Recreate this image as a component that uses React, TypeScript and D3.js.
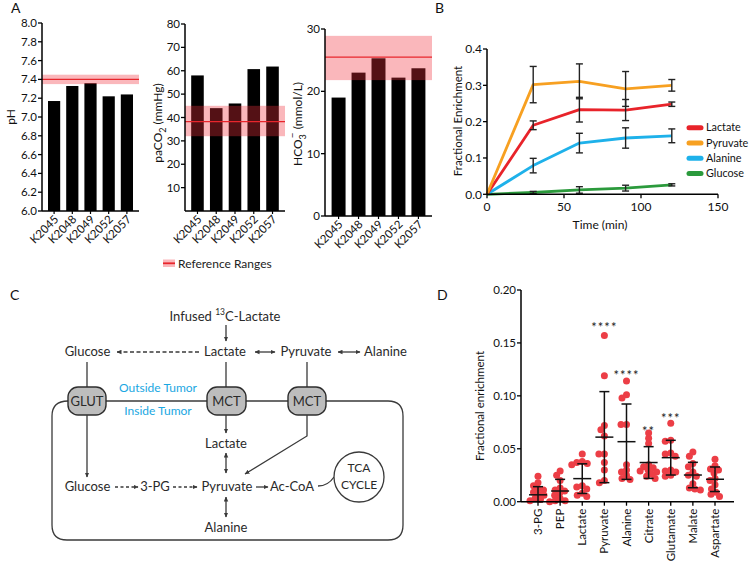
import React from 'react';
import * as d3 from 'd3';

const FONT = 'Lato, "Open Sans", "DejaVu Sans", sans-serif';

// ---------- Panel A data ----------
const patients = ['K2045', 'K2048', 'K2049', 'K2052', 'K2057'];
const phValues = [7.17, 7.33, 7.36, 7.22, 7.24];
const phRef = [7.35, 7.45, 7.4]; // low, high, mid
const phTicks = [6.0, 6.2, 6.4, 6.6, 6.8, 7.0, 7.2, 7.4, 7.6, 7.8, 8.0];
const pco2Values = [58, 44, 46, 60.7, 61.8];
const pco2Ref = [32, 45, 38.2];
const pco2Ticks = [10, 20, 30, 40, 50, 60, 70, 80];
const hco3Values = [19, 23, 25.3, 22.2, 23.7];
const hco3Ref = [21.8, 28.9, 25.5];
const hco3Ticks = [0, 10, 20, 30];

// ---------- Panel B data ----------
const timePoints = [0, 30, 60, 90, 120];
const seriesNames = ['Lactate', 'Pyruvate', 'Alanine', 'Glucose'];
const lactateMean = [0, 0.19, 0.233, 0.232, 0.248];
const lactateErr = [0, 0.012, 0.034, 0.029, 0.006];
const pyruvateMean = [0, 0.302, 0.311, 0.29, 0.3];
const pyruvateErr = [0, 0.05, 0.048, 0.048, 0.016];
const alanineMean = [0, 0.079, 0.141, 0.155, 0.161];
const alanineErr = [0, 0.02, 0.027, 0.028, 0.019];
const glucoseMean = [0, 0.005, 0.012, 0.017, 0.026];
const glucoseErr = [0, 0.003, 0.009, 0.008, 0.003];
const timeTicks = [0, 50, 100, 150];
const enrichTicks = [0, 0.1, 0.2, 0.3, 0.4];

// ---------- Panel D data ----------
const metabolites = ['3-PG', 'PEP', 'Lactate', 'Pyruvate', 'Alanine', 'Citrate', 'Glutamate', 'Malate', 'Aspartate'];
const pg3Points = [0.024, 0.018, 0.015, 0.012, 0.011, 0.009, 0.007, 0.006, 0.003, 0.002, 0.001];
const pepPoints = [0.029, 0.025, 0.02, 0.013, 0.011, 0.01, 0.008, 0.006, 0.003, 0.001, 0.0, 0.001];
const lactatePoints = [0.045, 0.038, 0.037, 0.036, 0.035, 0.015, 0.014, 0.012, 0.008, 0.006, 0.005];
const pyruvatePoints = [0.157, 0.119, 0.072, 0.068, 0.062, 0.045, 0.045, 0.037, 0.03, 0.02, 0.018];
const alaninePoints = [0.114, 0.101, 0.098, 0.073, 0.073, 0.035, 0.03, 0.028, 0.025, 0.022, 0.021];
const citratePoints = [0.065, 0.06, 0.055, 0.035, 0.033, 0.032, 0.03, 0.029, 0.028, 0.026, 0.024, 0.022];
const glutamatePoints = [0.074, 0.058, 0.057, 0.046, 0.045, 0.043, 0.03, 0.029, 0.028, 0.025, 0.024];
const malatePoints = [0.047, 0.043, 0.036, 0.033, 0.028, 0.025, 0.024, 0.017, 0.013, 0.012, 0.011];
const aspartatePoints = [0.04, 0.034, 0.031, 0.03, 0.027, 0.022, 0.02, 0.016, 0.012, 0.009, 0.007, 0.005];
const dMeans = [0.0065, 0.0101, 0.0218, 0.061, 0.0567, 0.037, 0.0416, 0.0252, 0.0212];
const dSds = [0.0077, 0.011, 0.014, 0.043, 0.0356, 0.015, 0.0164, 0.012, 0.0116];
const dStars = ['', '', '', '****', '****', '**', '***', '', ''];
const dStarValues = [0, 0, 0, 0.167, 0.122, 0.069, 0.081, 0, 0];
const dTicks = [0, 0.05, 0.1, 0.15, 0.2];

const REF_FILL = '#f0303c';
const RED = '#e8262c';

type BarProps = {
  x0: number; x1: number; yTop: number; yBase: number;
  domain: [number, number]; ticks: number[]; fmt: (v: number) => string;
  values: number[]; refRange: number[]; pad: number;
};

function BarPanel({ x0, x1, yTop, yBase, domain, ticks, fmt, values, refRange, pad }: BarProps) {
  const x = d3.scaleBand<string>().domain(patients).range([x0, x1]).paddingInner(pad).paddingOuter(0.33);
  const y = d3.scaleLinear().domain(domain).range([yBase, yTop]);
  return (
    <g>
      {values.map((v, i) => (
        <rect key={i} x={x(patients[i])} y={y(v)} width={x.bandwidth()} height={yBase - y(v)} fill="#000" />
      ))}
      <rect x={x0} y={y(refRange[1])} width={x1 - x0} height={y(refRange[0]) - y(refRange[1])} fill={REF_FILL} fillOpacity={0.35} />
      <line x1={x0} x2={x1} y1={y(refRange[2])} y2={y(refRange[2])} stroke={RED} strokeWidth={1.3} />
      <line x1={x0} x2={x0} y1={yTop} y2={yBase} stroke="#000" strokeWidth={1.5} />
      <line x1={x0} x2={x1} y1={yBase} y2={yBase} stroke="#000" strokeWidth={1.5} />
      {ticks.map((t) => (
        <g key={t}>
          <line x1={x0 - 4} x2={x0} y1={y(t)} y2={y(t)} stroke="#000" strokeWidth={1.3} />
          <text x={x0 - 5} y={y(t)} dy="0.35em" textAnchor="end" fontSize={11.5} fill="#111">{fmt(t)}</text>
        </g>
      ))}
      {patients.map((p) => {
        const cx = (x(p) as number) + x.bandwidth() / 2;
        return (
          <g key={p}>
            <line x1={cx} x2={cx} y1={yBase} y2={yBase + 3} stroke="#000" strokeWidth={1.2} />
            <text transform={`translate(${cx + 5},${yBase + 9}) rotate(-45)`} textAnchor="end" fontSize={11.5} fill="#111">{p}</text>
          </g>
        );
      })}
    </g>
  );
}

function PanelA() {
  return (
    <g>
      <text x={11} y={13} fontSize={14} fill="#111">A</text>
      <BarPanel x0={42} x1={139} yTop={23} yBase={211} domain={[6, 8]} ticks={phTicks}
        fmt={d3.format('.1f')} values={phValues} refRange={phRef} pad={0.33} />
      <text transform="translate(11,117) rotate(-90)" dy="0.35em" textAnchor="middle" fontSize={12} fill="#111">pH</text>

      <BarPanel x0={185} x1={285} yTop={24} yBase={211} domain={[0, 80]} ticks={pco2Ticks}
        fmt={d3.format('d')} values={pco2Values} refRange={pco2Ref} pad={0.33} />
      <text transform="translate(158,123) rotate(-90)" dy="0.35em" textAnchor="middle" fontSize={12} fill="#111">
        paCO<tspan fontSize={9} dy={4}>2</tspan><tspan dy={-4}>{'  (mmHg)'}</tspan>
      </text>

      <BarPanel x0={325} x1={432} yTop={29} yBase={216} domain={[0, 30]} ticks={hco3Ticks}
        fmt={d3.format('d')} values={hco3Values} refRange={hco3Ref} pad={0.3} />
      <text transform="translate(298,124) rotate(-90)" dy="0.35em" textAnchor="middle" fontSize={12} fill="#111">
        HCO<tspan fontSize={9} dy={4}>3</tspan><tspan fontSize={10} dx={-4} dy={-10}>−</tspan><tspan dy={6}>{' (mmol/L)'}</tspan>
      </text>

      <rect x={163} y={259.5} width={12} height={7.5} fill={REF_FILL} fillOpacity={0.35} />
      <line x1={163} x2={175} y1={263.3} y2={263.3} stroke={RED} strokeWidth={1.8} />
      <text x={178} y={267.5} fontSize={12} fill="#222">Reference Ranges</text>
    </g>
  );
}

function PanelB() {
  const x = d3.scaleLinear().domain([0, 150]).range([487, 718]);
  const y = d3.scaleLinear().domain([0, 0.4]).range([194.3, 49]);
  const means = [lactateMean, pyruvateMean, alanineMean, glucoseMean];
  const errs = [lactateErr, pyruvateErr, alanineErr, glucoseErr];
  const colors = ['#e8232a', '#f7a021', '#1eb1ea', '#2b9a3c'];
  const line = d3.line<number>().x((_, i) => x(timePoints[i])).y((d) => y(d));
  const drawOrder = [3, 2, 0, 1];
  return (
    <g>
      <text x={435} y={13} fontSize={14} fill="#111">B</text>
      {drawOrder.map((s) => (
        <path key={s} d={line(means[s]) || ''} fill="none" stroke={colors[s]} strokeWidth={2.8} strokeLinejoin="round" />
      ))}
      {drawOrder.map((s) => (
        <g key={'e' + s}>
          {means[s].map((m, i) => errs[s][i] > 0 ? (
            <g key={i} stroke="#222" strokeWidth={1.4}>
              <line x1={x(timePoints[i])} x2={x(timePoints[i])} y1={y(m - errs[s][i])} y2={y(m + errs[s][i])} />
              <line x1={x(timePoints[i]) - 3.5} x2={x(timePoints[i]) + 3.5} y1={y(m - errs[s][i])} y2={y(m - errs[s][i])} />
              <line x1={x(timePoints[i]) - 3.5} x2={x(timePoints[i]) + 3.5} y1={y(m + errs[s][i])} y2={y(m + errs[s][i])} />
            </g>
          ) : null)}
        </g>
      ))}
      <line x1={x(0)} x2={x(0)} y1={y(0.4)} y2={y(0)} stroke="#000" strokeWidth={1.5} />
      <line x1={x(0)} x2={x(150)} y1={y(0)} y2={y(0)} stroke="#000" strokeWidth={1.5} />
      {enrichTicks.map((t) => (
        <g key={t}>
          <line x1={x(0) - 4} x2={x(0)} y1={y(t)} y2={y(t)} stroke="#000" strokeWidth={1.3} />
          <text x={x(0) - 5} y={y(t)} dy="0.35em" textAnchor="end" fontSize={12} fill="#111">{d3.format('.1f')(t)}</text>
        </g>
      ))}
      {timeTicks.map((t) => (
        <g key={t}>
          <line x1={x(t)} x2={x(t)} y1={y(0)} y2={y(0) + 4} stroke="#000" strokeWidth={1.3} />
          <text x={x(t)} y={y(0) + 17} textAnchor="middle" fontSize={12} fill="#111">{t}</text>
        </g>
      ))}
      <text x={600} y={229} textAnchor="middle" fontSize={12} fill="#111">Time (min)</text>
      <text transform="translate(458,121) rotate(-90)" dy="0.35em" textAnchor="middle" fontSize={11.5} fill="#111">Fractional Enrichment</text>
      {seriesNames.map((n, i) => (
        <g key={n}>
          <line x1={689} x2={701} y1={127.7 + i * 15.3} y2={127.7 + i * 15.3} stroke={colors[i]} strokeWidth={5} strokeLinecap="round" />
          <text x={706} y={127.7 + i * 15.3} dy="0.35em" fontSize={10.8} fill="#111">{n}</text>
        </g>
      ))}
    </g>
  );
}

function PanelC() {
  const txt = '#2a2a2a';
  const ln = '#3a3a3a';
  const L = { stroke: ln, strokeWidth: 1.3, fill: 'none' };
  const boxes = [
    { name: 'GLUT', x: 68, w: 38 },
    { name: 'MCT', x: 207, w: 39 },
    { name: 'MCT', x: 288, w: 38 },
  ];
  const T = (x: number, y: number, s: string, anchor = 'middle') => (
    <text x={x} y={y} textAnchor={anchor as any} fontSize={13} fill={txt}>{s}</text>
  );
  return (
    <g>
      <defs>
        <marker id="ah" viewBox="0 0 10 10" refX={9} refY={5} markerWidth={5} markerHeight={5}
          markerUnits="userSpaceOnUse" orient="auto-start-reverse">
          <path d="M0,0.5 L10,5 L0,9.5 z" fill={ln} />
        </marker>
      </defs>
      <text x={10} y={300} fontSize={14} fill="#111">C</text>
      <text x={225} y={321} textAnchor="middle" fontSize={13} fill={txt}>
        Infused <tspan fontSize={8.5} dy={-6}>13</tspan><tspan dy={6}>C-Lactate</tspan>
      </text>
      <line x1={226} x2={226} y1={325} y2={341} {...L} markerEnd="url(#ah)" />
      {T(87.5, 356, 'Glucose')}
      {T(225, 356, 'Lactate')}
      {T(306, 356, 'Pyruvate')}
      {T(385.5, 356, 'Alanine')}
      <line x1={199} x2={117} y1={352} y2={352} {...L} strokeDasharray="4,2.5" markerEnd="url(#ah)" />
      <line x1={255} x2={275} y1={352} y2={352} {...L} markerStart="url(#ah)" markerEnd="url(#ah)" />
      <line x1={338} x2={360} y1={352} y2={352} {...L} markerStart="url(#ah)" markerEnd="url(#ah)" />
      <line x1={87} x2={87} y1={362} y2={388} {...L} />
      <line x1={226} x2={226} y1={362} y2={388} {...L} />
      <line x1={307} x2={307} y1={362} y2={388} {...L} />
      {/* membrane & cell */}
      <line x1={106} x2={207} y1={401} y2={401} {...L} />
      <line x1={246} x2={288} y1={401} y2={401} {...L} />
      <path d="M326,401 L388,401 Q403,401 403,416 L403,525 Q403,540 388,540 L67,540 Q52,540 52,525 L52,416 Q52,401 68,401" {...L} />
      {boxes.map((b, i) => (
        <g key={i}>
          <rect x={b.x} y={387} width={b.w} height={28} rx={10} fill="#bdbdbd" stroke="#2e2e2e" strokeWidth={1.4} />
          <text x={b.x + b.w / 2} y={405.5} textAnchor="middle" fontSize={13} fill={txt}>{b.name}</text>
        </g>
      ))}
      <text x={158} y={392} textAnchor="middle" fontSize={12} fill="#1aa7e2">Outside Tumor</text>
      <text x={158} y={415} textAnchor="middle" fontSize={12} fill="#1aa7e2">Inside Tumor</text>
      <line x1={226} x2={226} y1={415} y2={433} {...L} markerEnd="url(#ah)" />
      {T(226, 447.5, 'Lactate')}
      <line x1={226} x2={226} y1={453} y2={473} {...L} markerStart="url(#ah)" markerEnd="url(#ah)" />
      <line x1={87} x2={87} y1={415} y2={477} {...L} markerEnd="url(#ah)" />
      <path d="M307,415 L307,436 L245,474" {...L} markerEnd="url(#ah)" />
      {T(87.5, 491, 'Glucose')}
      <line x1={115} x2={138} y1={487} y2={487} {...L} strokeDasharray="3,2.5" markerEnd="url(#ah)" />
      {T(155, 491, '3-PG')}
      <line x1={173} x2={197} y1={487} y2={487} {...L} strokeDasharray="3,2.5" markerEnd="url(#ah)" />
      {T(227, 491, 'Pyruvate')}
      <line x1={256} x2={268} y1={487} y2={487} {...L} markerEnd="url(#ah)" />
      {T(292, 491, 'Ac-CoA')}
      <path d="M318,486 Q328,486 334,477" {...L} />
      <circle cx={359} cy={477} r={25} fill="#fff" stroke={ln} strokeWidth={1.3} />
      <text x={359} y={472} textAnchor="middle" fontSize={12} fill={txt}>TCA</text>
      <text x={359} y={489} textAnchor="middle" fontSize={12} fill={txt}>CYCLE</text>
      <line x1={226} x2={226} y1={497} y2={517} {...L} markerStart="url(#ah)" markerEnd="url(#ah)" />
      {T(226, 532, 'Alanine')}
    </g>
  );
}

function swarm(vals: number[], y: (v: number) => number, minDist: number): number[] {
  const order = vals.map((_, i) => i).sort((a, b) => vals[b] - vals[a]);
  const placed: { x: number; y: number }[] = [];
  const offs = new Array(vals.length).fill(0);
  for (const i of order) {
    const py = y(vals[i]);
    let best = 0;
    for (let k = 0; k < 80; k++) {
      const cand = (k % 2 === 0 ? 1 : -1) * Math.ceil(k / 2) * 0.5;
      if (placed.every((p) => Math.hypot(p.x - cand, p.y - py) >= minDist)) { best = cand; break; }
    }
    placed.push({ x: best, y: py });
    offs[i] = best;
  }
  return offs;
}

function PanelD() {
  const groups = [pg3Points, pepPoints, lactatePoints, pyruvatePoints, alaninePoints, citratePoints, glutamatePoints, malatePoints, aspartatePoints];
  const x = d3.scalePoint<string>().domain(metabolites).range([538, 715]);
  const y = d3.scaleLinear().domain([0, 0.2]).range([501.7, 290]);
  const ax0 = 521, ax1 = 734;
  const r = 3.5;
  return (
    <g>
      <text x={437} y={300} fontSize={14} fill="#111">D</text>
      {groups.map((pts, gi) => {
        const cx = x(metabolites[gi]) as number;
        const offs = swarm(pts, y, 5.2);
        return (
          <g key={gi}>
            {pts.map((v, i) => (
              <circle key={i} cx={cx + offs[i]} cy={y(v)} r={r} fill="#ec3e46" />
            ))}
          </g>
        );
      })}
      {metabolites.map((m, i) => {
        const cx = x(m) as number;
        const top = y(dMeans[i] + dSds[i]);
        const bot = y(Math.max(0, dMeans[i] - dSds[i]));
        return (
          <g key={m} stroke="#111" strokeWidth={1.5}>
            <line x1={cx} x2={cx} y1={top} y2={bot} />
            <line x1={cx - 5} x2={cx + 5} y1={top} y2={top} />
            <line x1={cx - 5} x2={cx + 5} y1={bot} y2={bot} />
            <line x1={cx - 9} x2={cx + 9} y1={y(dMeans[i])} y2={y(dMeans[i])} />
          </g>
        );
      })}
      {metabolites.map((m, i) => dStars[i] ? (
        <text key={m} x={x(m)} y={y(dStarValues[i]) + 7} textAnchor="middle" fontSize={13} fill="#222" letterSpacing={1}>{dStars[i]}</text>
      ) : null)}
      <line x1={ax0} x2={ax0} y1={y(0.2)} y2={y(0)} stroke="#000" strokeWidth={1.5} />
      <line x1={ax0} x2={ax1} y1={y(0)} y2={y(0)} stroke="#000" strokeWidth={1.5} />
      {dTicks.map((t) => (
        <g key={t}>
          <line x1={ax0 - 4} x2={ax0} y1={y(t)} y2={y(t)} stroke="#000" strokeWidth={1.3} />
          <text x={ax0 - 5} y={y(t)} dy="0.35em" textAnchor="end" fontSize={11.5} fill="#111">{d3.format('.2f')(t)}</text>
        </g>
      ))}
      {metabolites.map((m) => {
        const cx = x(m) as number;
        return (
          <g key={m}>
            <line x1={cx} x2={cx} y1={y(0)} y2={y(0) + 4} stroke="#000" strokeWidth={1.3} />
            <text transform={`translate(${cx},${y(0) + 7}) rotate(-90)`} dy="0.35em" textAnchor="end" fontSize={11.5} fill="#111">{m}</text>
          </g>
        );
      })}
      <text transform="translate(480,406) rotate(-90)" dy="0.35em" textAnchor="middle" fontSize={11.5} fill="#111">Fractional enrichment</text>
    </g>
  );
}

export default function App() {
  return (
    <svg width={750} height={567} style={{ position: 'absolute', left: 0, top: 0, background: '#fff' }} fontFamily={FONT}>
      <rect width={750} height={567} fill="#fff" />
      <PanelA />
      <PanelB />
      <PanelC />
      <PanelD />
    </svg>
  );
}
